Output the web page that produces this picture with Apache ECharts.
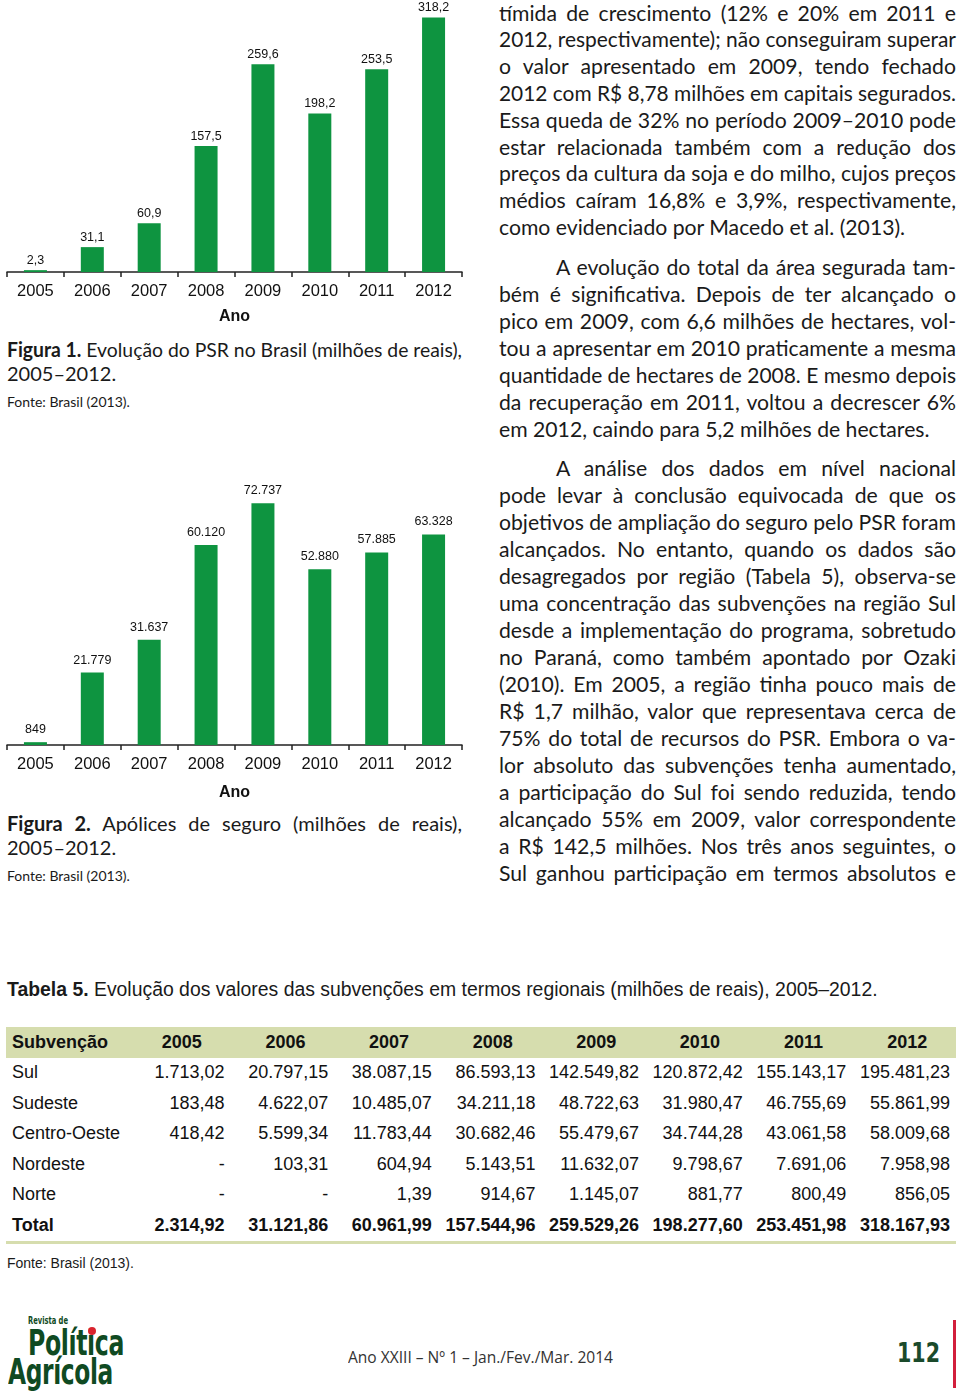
<!DOCTYPE html>
<html><head><meta charset="utf-8">
<script src="https://cdn.jsdelivr.net/npm/echarts@6/dist/echarts.min.js"></script>
<style>
html,body{margin:0;padding:0;background:#fff;}
body{width:960px;height:1392px;position:relative;overflow:hidden;font-family:Lato,"Open Sans",sans-serif;color:#1a1a1a;}
.abs{position:absolute;}
.ln{position:absolute;white-space:nowrap;line-height:27px;font-size:21.2px;}
.ln span{display:inline-block;transform-origin:0 50%;}
.cap{position:absolute;white-space:nowrap;line-height:24px;font-size:20px;}
.cap span{display:inline-block;transform-origin:0 50%;}
.src{position:absolute;font-size:14px;white-space:nowrap;}
table.t{position:absolute;left:6px;top:1027px;width:950px;border-collapse:collapse;table-layout:fixed;font-family:"Liberation Sans",Arial,sans-serif;font-size:18px;color:#111;}
table.t td{height:30.5px;padding:0 6px 0 0;text-align:right;white-space:nowrap;}
table.t td.r{text-align:left;padding-left:6px;}
table.t tr.h td{background:#d6ddae;font-weight:bold;text-align:center;padding:0 0 0 6px;}
table.t tr.h td.r{text-align:left;}
table.t tr.tot td{font-weight:bold;border-bottom:3px solid #d6ddae;}
.fit span{display:inline-block;transform-origin:0 50%;}
</style></head><body>

<div id="c1" class="abs" style="left:0;top:0;width:470px;height:330px"></div>
<div id="c2" class="abs" style="left:0;top:470px;width:470px;height:340px"></div>

<div id="captions"></div>
<div id="text"></div>

<div class="abs" style="left:7px;top:977px;font-family:'Liberation Sans',Arial,sans-serif;font-size:19.4px;white-space:nowrap;line-height:24px;"><b>Tabela 5.</b> Evolução dos valores das subvenções em termos regionais (milhões de reais), 2005–2012.</div>
<table class="t" id="tbl"></table>
<div class="abs" style="left:7px;top:1255px;font-family:'Liberation Sans',Arial,sans-serif;font-size:14px;white-space:nowrap;">Fonte: Brasil (2013).</div>

<!-- footer -->
<div class="abs fit" id="lg0" data-w="40" style="left:28px;top:1315px;font-family:'Liberation Sans Narrow','DejaVu Sans Condensed','Liberation Sans',sans-serif;font-weight:bold;font-size:10px;color:#0f4a22;line-height:12px;white-space:nowrap;"><span>Revista de</span></div>
<div class="abs fit" id="lg1" data-w="96" style="left:28px;top:1325px;font-family:'Liberation Sans Narrow','DejaVu Sans Condensed','Liberation Sans',sans-serif;font-weight:bold;font-size:36px;color:#0f4a22;line-height:36px;white-space:nowrap;letter-spacing:-0.5px"><span>Política</span></div>
<div class="abs fit" id="lg2" data-w="105" style="left:8px;top:1354px;font-family:'Liberation Sans Narrow','DejaVu Sans Condensed','Liberation Sans',sans-serif;font-weight:bold;font-size:36px;color:#0f4a22;line-height:36px;white-space:nowrap;letter-spacing:-0.5px"><span>Agrícola</span></div>
<div class="abs" style="left:88px;top:1327px;width:8px;height:8px;border-radius:50%;background:#d9232e;"></div>
<div class="abs fit" id="ft" data-w="265" style="left:348px;top:1346px;font-family:'Open Sans',sans-serif;font-size:17px;color:#333;line-height:22px;white-space:nowrap;"><span>Ano XXIII – Nº 1 – Jan./Fev./Mar. 2014</span></div>
<div class="abs fit" id="pg" data-w="43" style="left:897px;top:1339px;font-family:'DejaVu Sans','Liberation Sans',sans-serif;font-weight:bold;font-size:26px;color:#1a4a2b;line-height:28px;white-space:nowrap;"><span>112</span></div>
<div class="abs" style="left:953px;top:1320px;width:3px;height:68px;background:#d21f3c;"></div>

<script>
// ---------- data ----------
const years = ['2005','2006','2007','2008','2009','2010','2011','2012'];
const psrValues = [2.3, 31.1, 60.9, 157.5, 259.6, 198.2, 253.5, 318.2];
const apolicesValues = [849, 21779, 31637, 60120, 72737, 52880, 57885, 63328];

const tableHeader = ['Subvenção','2005','2006','2007','2008','2009','2010','2011','2012'];
const regions = ['Sul','Sudeste','Centro-Oeste','Nordeste','Norte','Total'];
const sulRow = ['1.713,02','20.797,15','38.087,15','86.593,13','142.549,82','120.872,42','155.143,17','195.481,23'];
const sudesteRow = ['183,48','4.622,07','10.485,07','34.211,18','48.722,63','31.980,47','46.755,69','55.861,99'];
const centroOesteRow = ['418,42','5.599,34','11.783,44','30.682,46','55.479,67','34.744,28','43.061,58','58.009,68'];
const nordesteRow = ['-','103,31','604,94','5.143,51','11.632,07','9.798,67','7.691,06','7.958,98'];
const norteRow = ['-','-','1,39','914,67','1.145,07','881,77','800,49','856,05'];
const totalRow = ['2.314,92','31.121,86','60.961,99','157.544,96','259.529,26','198.277,60','253.451,98','318.167,93'];

const para1 = [
 'tímida de crescimento (12% e 20% em 2011 e',
 '2012, respectivamente); não conseguiram superar',
 'o valor apresentado em 2009, tendo fechado',
 '2012 com R$ 8,78 milhões em capitais segurados.',
 'Essa queda de 32% no período 2009–2010 pode',
 'estar relacionada também com a redução dos',
 'preços da cultura da soja e do milho, cujos preços',
 'médios caíram 16,8% e 3,9%, respectivamente,',
 'como evidenciado por Macedo et al. (2013).'
];
const para2 = [
 'A evolução do total da área segurada tam-',
 'bém é significativa. Depois de ter alcançado o',
 'pico em 2009, com 6,6 milhões de hectares, vol-',
 'tou a apresentar em 2010 praticamente a mesma',
 'quantidade de hectares de 2008. E mesmo depois',
 'da recuperação em 2011, voltou a decrescer 6%',
 'em 2012, caindo para 5,2 milhões de hectares.'
];
const para3 = [
 'A análise dos dados em nível nacional',
 'pode levar à conclusão equivocada de que os',
 'objetivos de ampliação do seguro pelo PSR foram',
 'alcançados. No entanto, quando os dados são',
 'desagregados por região (Tabela 5), observa-se',
 'uma concentração das subvenções na região Sul',
 'desde a implementação do programa, sobretudo',
 'no Paraná, como também apontado por Ozaki',
 '(2010). Em 2005, a região tinha pouco mais de',
 'R$ 1,7 milhão, valor que representava cerca de',
 '75% do total de recursos do PSR. Embora o va-',
 'lor absoluto das subvenções tenha aumentado,',
 'a participação do Sul foi sendo reduzida, tendo',
 'alcançado 55% em 2009, valor correspondente',
 'a R$ 142,5 milhões. Nos três anos seguintes, o',
 'Sul ganhou participação em termos absolutos e'
];

// ---------- charts ----------
const fmtPsr = v => v.toFixed(1).replace('.', ',');
const fmtApo = v => String(v).replace(/\B(?=(\d{3})+(?!\d))/g, '.');

function barOption(values, max, top, bottom, fmt, dist, nameGap){
  return {
    animation:false,
    textStyle:{fontFamily:'"Liberation Sans", Arial, sans-serif'},
    grid:{left:7,right:8,top:top,bottom:bottom,containLabel:false},
    xAxis:{type:'category',data:years,
      axisLine:{lineStyle:{color:'#222',width:1.5}},
      axisTick:{show:true,length:5,lineStyle:{color:'#222',width:1.5}},
      axisLabel:{color:'#111',fontSize:16.5,margin:11},
      name:'Ano',nameLocation:'middle',nameGap:nameGap,
      nameTextStyle:{fontWeight:'bold',fontSize:16,color:'#111'}},
    yAxis:{type:'value',min:0,max:max,show:false},
    series:[{type:'bar',data:values,barWidth:23,itemStyle:{color:'#0e9440'},
      label:{show:true,position:'top',distance:dist,fontSize:12.5,color:'#111',
        formatter:p=>fmt(p.value)}}]
  };
}
echarts.init(document.getElementById('c1'),null,{renderer:'canvas'})
  .setOption(barOption(psrValues,340,0,57,fmtPsr,3,37));
echarts.init(document.getElementById('c2'),null,{renderer:'canvas'})
  .setOption(barOption(apolicesValues,80000,9,65,fmtApo,6,40));

// ---------- table ----------
const rows = [sulRow,sudesteRow,centroOesteRow,nordesteRow,norteRow,totalRow];
let html = '<colgroup><col style="width:121px">' + years.map(()=>'<col style="width:103.6px">').join('') + '</colgroup>';
html += '<tr class="h">' + tableHeader.map((h,i)=>'<td'+(i===0?' class="r"':'')+'>'+h+'</td>').join('') + '</tr>';
rows.forEach((r,k)=>{
  html += '<tr'+(k===rows.length-1?' class="tot"':'')+'><td class="r">'+regions[k]+'</td>' + r.map(v=>'<td>'+v+'</td>').join('') + '</tr>';
});
document.getElementById('tbl').innerHTML = html;

// ---------- text ----------
const textDiv = document.getElementById('text');
function addPara(lines, startY, step, indent, lastJustified){
  lines.forEach((t,i)=>{
    const d = document.createElement('div');
    d.className = 'ln';
    const x = 499 + (i===0 ? indent : 0);
    d.style.left = x+'px';
    d.style.top = (startY + i*step - 13.5)+'px';
    d.dataset.w = 457 - (i===0 ? indent : 0);
    d.dataset.j = (i===lines.length-1 && !lastJustified) ? '0' : '1';
    d.innerHTML = '<span>'+t+'</span>';
    textDiv.appendChild(d);
  });
}
addPara(para1, 13, 26.8, 0, false);
addPara(para2, 267, 27.1, 57, false);
addPara(para3, 468, 27.0, 57, true);

const capDiv = document.getElementById('captions');
function addCap(lines, startY, step, justifyFirst){
  lines.forEach((t,i)=>{
    const d = document.createElement('div');
    d.className = 'cap';
    d.style.left = '7px';
    d.style.top = (startY + i*step - 12)+'px';
    d.dataset.w = 455;
    d.dataset.j = (i===0 && justifyFirst) ? '1' : '0';
    d.innerHTML = '<span>'+t+'</span>';
    capDiv.appendChild(d);
  });
}
addCap(['<b>Figura 1.</b> Evolução do PSR no Brasil (milhões de reais),','2005–2012.'], 349, 24, true);
addCap(['<b>Figura 2.</b> Apólices de seguro (milhões de reais),','2005–2012.'], 823, 24, true);
[['Fonte: Brasil (2013).',402],['Fonte: Brasil (2013).',876]].forEach(([t,y])=>{
  const d=document.createElement('div'); d.className='src'; d.style.left='7px'; d.style.top=(y-9)+'px'; d.textContent=t; capDiv.appendChild(d);
});

function layout(){
  document.querySelectorAll('.ln, .cap').forEach(d=>{
    const s = d.firstChild;
    s.style.transform=''; s.style.wordSpacing='0px';
    const W = +d.dataset.w;
    const w = s.getBoundingClientRect().width;
    if (w > W) { s.style.transform = 'scaleX('+(W/w)+')'; }
    else if (d.dataset.j==='1') {
      const n = (s.textContent.match(/ /g)||[]).length;
      if (n>0) s.style.wordSpacing = ((W-w)/n)+'px';
    }
  });
  document.querySelectorAll('.fit').forEach(d=>{
    const s=d.firstChild; s.style.transform='';
    const w=s.getBoundingClientRect().width; const W=+d.dataset.w;
    s.style.transform='scaleX('+(W/w)+')';
  });
}
layout();
if (document.fonts && document.fonts.ready) document.fonts.ready.then(layout);
</script>
</body></html>
